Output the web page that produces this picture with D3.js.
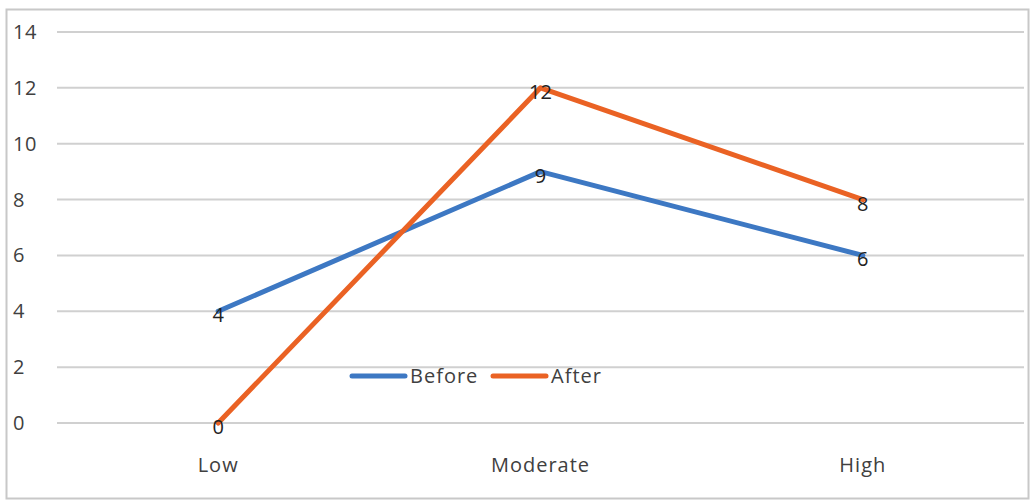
<!DOCTYPE html>
<html>
<head>
<meta charset="utf-8">
<script src="https://cdn.jsdelivr.net/npm/d3@7"></script>
<style>
  body { margin: 0; background: #fff; }
  svg { display: block; font-family: "Open Sans", "Noto Sans", sans-serif; }
</style>
</head>
<body>
<svg></svg>
<script>
const categories = ['Low', 'Moderate', 'High'];
const before = [4, 9, 6];
const after = [0, 12, 8];
const yTicks = [0, 2, 4, 6, 8, 10, 12, 14];

const series = [
  {name: 'Before', values: before, color: '#3d78c3'},
  {name: 'After', values: after, color: '#ea6224'}
];

const available = {width: 1033, height: 501};
const plot = {left: 57, right: 1024, top: 32, bottom: 423};

const svg = d3.select('svg')
  .attr('width', available.width)
  .attr('height', available.height);

// chart frame
svg.append('rect')
  .attr('x', 6.5).attr('y', 9.5)
  .attr('width', 1022).attr('height', 489)
  .attr('fill', '#fff')
  .attr('stroke', '#c8c8c8')
  .attr('stroke-width', 2);

const xScale = d3.scalePoint().domain(categories)
  .range([plot.left, plot.right]).padding(0.5);
const yScale = d3.scaleLinear().domain([0, 14])
  .range([plot.bottom, plot.top]);

// gridlines
svg.append('g')
  .selectAll('line')
  .data(yTicks)
  .join('line')
  .attr('x1', plot.left).attr('x2', plot.right)
  .attr('y1', d => yScale(d)).attr('y2', d => yScale(d))
  .attr('stroke', '#d0d0d0')
  .attr('stroke-width', 2);

// y axis labels
svg.append('g')
  .selectAll('text')
  .data(yTicks)
  .join('text')
  .attr('x', 13)
  .attr('y', d => yScale(d))
  .attr('dy', '0.35em')
  .attr('font-size', 20)
  .attr('letter-spacing', 0.5)
  .attr('fill', '#404040')
  .text(d => d);

// x axis labels
svg.append('g')
  .selectAll('text')
  .data(categories)
  .join('text')
  .attr('x', d => xScale(d))
  .attr('y', 465)
  .attr('dy', '0.35em')
  .attr('text-anchor', 'middle')
  .attr('font-size', 20)
  .attr('letter-spacing', 1)
  .attr('fill', '#404040')
  .text(d => d);

const line = d3.line()
  .x((d, i) => xScale(categories[i]))
  .y(d => yScale(d));

svg.append('g')
  .selectAll('path')
  .data(series)
  .join('path')
  .attr('d', d => line(d.values))
  .attr('fill', 'none')
  .attr('stroke', d => d.color)
  .attr('stroke-width', 5)
  .attr('stroke-linejoin', 'round')
  .attr('stroke-linecap', 'round');

// data labels
series.forEach(s => {
  svg.append('g')
    .selectAll('text')
    .data(s.values)
    .join('text')
    .attr('x', (d, i) => xScale(categories[i]))
    .attr('y', d => yScale(d) + 4)
    .attr('dy', '0.35em')
    .attr('text-anchor', 'middle')
    .attr('font-size', 20)
    .attr('fill', '#222')
    .text(d => d);
});

// legend
const legend = [
  {name: 'Before', color: '#3d78c3', x: 352},
  {name: 'After', color: '#ea6224', x: 493}
];
const lg = svg.append('g').selectAll('g')
  .data(legend)
  .join('g')
  .attr('transform', d => `translate(${d.x}, 376)`);
lg.append('line')
  .attr('x1', 0).attr('x2', 53)
  .attr('stroke', d => d.color)
  .attr('stroke-width', 5)
  .attr('stroke-linecap', 'round');
lg.append('text')
  .attr('x', 58)
  .attr('dy', '0.35em')
  .attr('font-size', 20)
  .attr('letter-spacing', 1)
  .attr('fill', '#404040')
  .text(d => d.name);
</script>
</body>
</html>
